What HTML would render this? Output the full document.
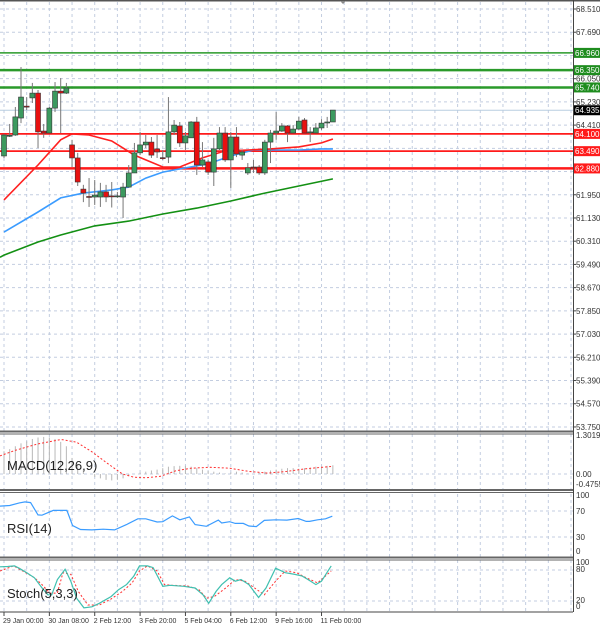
<!DOCTYPE html>
<html><head><meta charset="utf-8"><style>
html,body{margin:0;padding:0;background:#fff;}
svg{display:block;font-family:"Liberation Sans",sans-serif;}
</style></head><body>
<svg id="c" width="600" height="626" viewBox="0 0 600 626" xmlns="http://www.w3.org/2000/svg"></svg>
<script>
// ---------- data ----------
const opens  = [63.32,64.03,64.06,64.66,65.08,65.37,65.54,64.20,64.13,65.01,65.61,65.54,63.71,63.25,62.15,61.89,61.87,61.87,62.05,61.91,61.90,61.87,62.22,62.72,63.43,63.71,63.81,63.57,63.26,63.28,64.17,64.38,63.78,63.96,64.52,63.00,63.11,62.75,63.57,64.13,63.18,63.99,63.35,62.72,62.93,62.93,62.72,63.81,64.13,64.20,64.38,64.13,64.27,64.59,64.15,64.13,64.31,64.50,64.52];
const highs  = [64.10,64.45,65.05,66.46,65.40,65.90,65.65,64.45,65.05,65.93,66.07,65.90,63.89,63.43,62.30,62.54,62.47,62.37,62.30,62.40,62.05,62.37,63.00,63.78,64.17,64.06,63.99,64.06,63.53,65.40,64.59,64.52,64.17,64.55,64.70,63.81,63.18,63.96,64.34,64.34,64.17,64.34,63.53,63.07,63.18,63.00,63.89,64.24,64.87,64.48,64.41,64.41,64.70,64.66,64.34,64.48,64.62,64.70,64.94];
const lows   = [63.25,63.99,64.03,64.48,64.94,65.19,63.60,63.96,64.13,64.87,64.13,65.51,62.93,62.26,61.69,61.52,61.59,61.52,61.69,61.50,61.84,61.13,62.20,62.72,63.35,63.60,63.25,63.25,63.18,63.07,64.06,63.64,63.53,63.96,62.65,62.93,62.65,62.26,63.53,63.11,62.19,63.28,63.18,62.65,62.72,62.65,62.65,63.07,63.89,64.17,63.81,64.13,64.24,64.13,63.81,64.13,64.24,64.31,64.52];
const closes = [64.06,64.05,64.70,65.40,65.05,65.54,64.17,64.13,65.01,65.61,65.54,65.72,63.25,62.40,62.01,61.87,61.94,62.05,61.87,61.90,61.91,62.22,62.72,63.43,63.71,63.81,63.35,63.46,63.25,64.17,64.41,63.78,64.03,64.52,63.00,63.18,62.75,63.57,64.13,63.18,63.99,63.39,63.46,62.90,62.90,62.72,63.81,64.13,64.20,64.38,64.13,64.27,64.55,64.13,64.17,64.31,64.48,64.52,64.94];
const maRedIdx = [0,6,10,12,15,19,23,28,31,35,39,43,47,52,56,58];
const maRedVal = [61.77,63.00,63.89,64.10,64.06,63.85,63.35,62.93,62.93,63.25,63.50,63.53,63.57,63.64,63.78,63.92];
const maBlueIdx = [0,6,10,14,19,22,25,28,32,36,40,44,48,52,56,58];
const maBlueVal = [60.63,61.34,61.84,62.01,62.12,62.22,62.54,62.75,62.90,63.04,63.32,63.53,63.53,63.53,63.57,63.57];
const maGreenIdx = [-0.7,0,6,10,16,22,28,34,40,46,52,58];
const maGreenVal = [59.74,59.82,60.28,60.53,60.85,61.02,61.27,61.48,61.73,62.01,62.26,62.51];
const supportLevels = [64.10,63.49,62.88];
const resistLevels = [66.96,66.35,65.74];
const currentPrice = 64.935;
const priceTicks = [68.51,67.69,66.05,65.23,64.41,61.95,61.13,60.31,59.49,58.67,57.85,57.03,56.21,55.39,54.57,53.75];
const macdHist = [0.78,0.85,0.95,1.05,1.12,1.2,1.25,1.27,1.25,1.2,1.1,0.95,0.55,0.35,0.15,0.0,-0.1,-0.15,-0.2,-0.22,-0.2,-0.15,-0.05,0.0,0.05,0.08,0.12,0.15,0.2,0.25,0.27,0.28,0.28,0.25,0.2,0.15,0.1,0.08,0.05,0.02,0.05,0.08,0.05,0.02,0.0,0.05,0.08,0.12,0.15,0.18,0.2,0.2,0.18,0.2,0.22,0.25,0.25,0.28,0.3];
const macdSigIdx = [-0.7,2,6,10.1,12.8,15.5,18.2,20.9,22.9,25,27.6,30.3,33,36.4,39.8,43.2,46.5,49.9,53.3,57.9];
const macdSigVal = [0.62,0.81,1.03,1.18,1.09,0.76,0.37,0,-0.11,-0.13,-0.08,0.11,0.2,0.23,0.2,0.09,0.03,0.09,0.18,0.26];
const rsiIdx = [-0.7,1,2.7,3.7,4.7,6,6.7,8.7,10.4,11.1,12.1,13.5,15.5,17.5,19.5,21.6,23.6,25,27,28,29.7,31,32.7,33.7,35.7,37.8,38.4,39.8,40.8,42.2,43.2,44.5,45.9,47.9,49.9,51.9,53.3,53.9,55.3,56.7,57.9];
const rsiVal = [77.5,78.5,82.5,84,83,64,63.5,71,71,71,47.5,41.5,41,42,41,49,58,58,53,53.5,62.5,56.5,61,49,46.5,56,51.5,53.5,51,51,47,46,55.5,56.5,56,58.5,54,54,56.5,58,62];
const stochKIdx = [-0.7,0.65,1.86,2.67,4.02,5.37,6.72,7.73,8.41,9.42,10.77,11.78,12.8,14.1,15.5,16.8,18.9,20.2,21.6,22.9,23.9,25.3,26.3,28,29.3,31.7,33.7,35.1,36.1,37.4,38.4,39.8,40.8,41.8,43.2,44.9,46.2,47.9,49.6,51.3,52.6,53.6,55,56,57.7];
const stochKVal = [86,86.6,87.9,83.3,74.7,64.8,45,31.9,31.9,61.5,81.3,58.2,25.3,6.8,8.8,15.4,28.6,41.8,51.7,68.1,87.9,87.9,84.6,48.4,50.3,48.4,45,31.9,15.4,38.5,51.7,64.8,58.2,61.5,51.7,26.6,45,83.3,74.7,71.4,68.1,61.5,51.7,58.2,87.9];
const stochDIdx = [-0.7,1.7,3.3,5.4,6.7,8.1,9.4,10.4,11.8,13.1,14.8,16.8,18.9,20.9,22.6,23.9,25.3,27,28.3,29.7,32.4,34.4,35.7,37.1,39.1,40.8,42.5,44.2,45.9,47.9,49.6,51.6,53.3,55.3,57.7];
const stochDVal = [78,87.9,78,64.8,51.7,35.2,35.2,74.7,71.4,38.5,12.1,12.1,24,38.5,55,78,87.9,78,51.7,50.3,49,41.8,25.3,28.6,45,61.5,58.2,45,31.9,58.2,78,74.7,64.8,55,78];
const timeLabels = ["29 Jan 00:00","30 Jan 08:00","2 Feb 12:00","3 Feb 20:00","5 Feb 04:00","6 Feb 12:00","9 Feb 16:00","11 Feb 00:00"];

// ---------- axes ----------
const NS="http://www.w3.org/2000/svg";
const svg=document.getElementById('c');
const X=i=>4+i*5.67;
const Y=p=>9+(68.51-p)/0.82*23.22;
const YM=v=>474-v*29.2;
const YR=v=>556.5-v*0.65;
const YS=v=>611.3-v*0.517;
const R=573;
function mk(tag,attrs,parent){const e=document.createElementNS(NS,tag);for(const k in attrs)e.setAttribute(k,attrs[k]);(parent||svg).appendChild(e);return e;}
function pts(ix,vals,yf){return ix.map((i,k)=>X(i).toFixed(1)+','+yf(vals[k]).toFixed(1)).join(' ');}

// grid
const grid=mk('g',{});


for(let i=0;X(i)<R;i+=4){
  mk('line',{x1:X(i),x2:X(i),y1:2,y2:612,stroke:'#c3cde0','stroke-dasharray':'3,3','stroke-width':1},grid);
}
for(let k=0;k<=18;k++){const p=68.51-k*0.82;mk('line',{x1:0,x2:R,y1:Y(p),y2:Y(p),stroke:'#c3cde0','stroke-dasharray':'3,3'},grid);}
[[YM(0)],[YR(70)],[YR(30)],[YS(80)],[YS(20)]].forEach(a=>mk('line',{x1:0,x2:R,y1:a[0],y2:a[0],stroke:'#c3cde0','stroke-dasharray':'3,3'},grid));

// frames
mk('line',{x1:0,x2:600,y1:0.5,y2:0.5,stroke:'#555','stroke-width':2});
mk('polygon',{points:'340,1 346,1 343,4',fill:'#888'});
mk('line',{x1:R+0.5,x2:R+0.5,y1:0,y2:612,stroke:'#444'});
[431.5,490,557.5].forEach(y=>{mk('line',{x1:0,x2:R,y1:y,y2:y,stroke:'#666','stroke-width':2});mk('line',{x1:0,x2:R,y1:y+2.5,y2:y+2.5,stroke:'#666','stroke-width':1});});
mk('line',{x1:0,x2:R,y1:612,y2:612,stroke:'#444'});

// price ticks
priceTicks.forEach(p=>{
  mk('line',{x1:R,x2:R+3,y1:Y(p),y2:Y(p),stroke:'#444'});
  const t=mk('text',{x:576,y:Y(p)+3,'font-size':8,fill:'#333'});t.textContent=p.toFixed(3);
  
  
});

// level lines
resistLevels.forEach((p,k)=>{
  const l=mk('line',{x1:0,x2:R,y1:Y(p),y2:Y(p),stroke:'#2a9a2a','stroke-width':k==0?1.5:2.5});
  
  
});
supportLevels.forEach((p,k)=>{
  const l=mk('line',{x1:0,x2:R,y1:Y(p),y2:Y(p),stroke:'#ff1a1a','stroke-width':k==2?2.5:1.8});
  
  
});
mk('line',{x1:0,x2:R,y1:Y(currentPrice),y2:Y(currentPrice),stroke:'#b8cde0','stroke-width':1});

// MAs
const mg=mk('polyline',{points:pts(maGreenIdx,maGreenVal,Y),fill:'none',stroke:'#139013','stroke-width':1.6});


const mb=mk('polyline',{points:pts(maBlueIdx,maBlueVal,Y),fill:'none',stroke:'#3b9cff','stroke-width':1.6});


const mr=mk('polyline',{points:pts(maRedIdx,maRedVal,Y),fill:'none',stroke:'#ff2020','stroke-width':1.6});



// candles
opens.forEach((o,i)=>{
  const c=closes[i],x=X(i);
  const g=mk('g',{});
  
  
  mk('line',{x1:x,x2:x,y1:Y(highs[i]),y2:Y(lows[i]),stroke:'#777','stroke-width':1},g);
  const top=Y(Math.max(o,c)),bot=Y(Math.min(o,c));
  mk('rect',{x:x-2.5,y:top,width:5,height:Math.max(1,bot-top),fill:c>=o?'#3c9a5f':'#e81010',stroke:'#333','stroke-width':0.6},g);
});

// price boxes
function box(p,bg){
  const g=mk('g',{});
  
  
  mk('rect',{x:574,y:Y(p)-5,width:26,height:10,fill:bg},g);
  const t=mk('text',{x:575,y:Y(p)+3,'font-size':8,fill:'#fff'},g);t.textContent=p.toFixed(3);
}
resistLevels.forEach(p=>box(p,'#1e8c1e'));
supportLevels.forEach(p=>box(p,'#ff1a1a'));
box(currentPrice,'#000');

// MACD
macdHist.forEach((v,i)=>{
  const l=mk('line',{x1:X(i),x2:X(i),y1:YM(0),y2:YM(v),stroke:'#b8b8b8','stroke-width':1});
  
  
});
const ms=mk('polyline',{points:pts(macdSigIdx,macdSigVal,YM),fill:'none',stroke:'#ff3030','stroke-width':1,'stroke-dasharray':'2,2'});


[[1.3019,'1.3019',438],[0,'0.00',477],[-0.4755,'-0.4755',487]].forEach(a=>{const t=mk('text',{x:576,y:a[2],'font-size':8,fill:'#333'});t.textContent=a[1];});

// RSI
const rl=mk('polyline',{points:pts(rsiIdx,rsiVal,YR),fill:'none',stroke:'#3b9cff','stroke-width':1.2});


[[100,'100',498],[70,'70',514],[30,'30',540],[0,'0',554]].forEach(a=>{const t=mk('text',{x:576,y:a[2],'font-size':8,fill:'#333'});t.textContent=a[1];});

// Stoch
const sd=mk('polyline',{points:pts(stochDIdx,stochDVal,YS),fill:'none',stroke:'#ff3030','stroke-width':1,'stroke-dasharray':'2,2'});


const sk=mk('polyline',{points:pts(stochKIdx,stochKVal,YS),fill:'none',stroke:'#40c0b0','stroke-width':1.2});


[['100',565],['80',572],['20',603],['0',609]].forEach(a=>{const t=mk('text',{x:576,y:a[1],'font-size':8,fill:'#333'});t.textContent=a[0];});

// panel titles
[['MACD(12,26,9)',470,'macd-title'],['RSI(14)',533,'rsi-title'],['Stoch(5,3,3)',598,'stoch-title']].forEach(a=>{
  const t=mk('text',{x:7,y:a[1],'font-size':13,fill:'#222'});t.textContent=a[0];
  
  
});

// time axis
timeLabels.forEach((s,k)=>{
  const x=X(k*8);
  mk('line',{x1:x,x2:x,y1:612,y2:616,stroke:'#444'});
  const t=mk('text',{x:x-1,y:623,'font-size':7,fill:'#333'});t.textContent=s;
  
  
});
</script>
</body></html>
